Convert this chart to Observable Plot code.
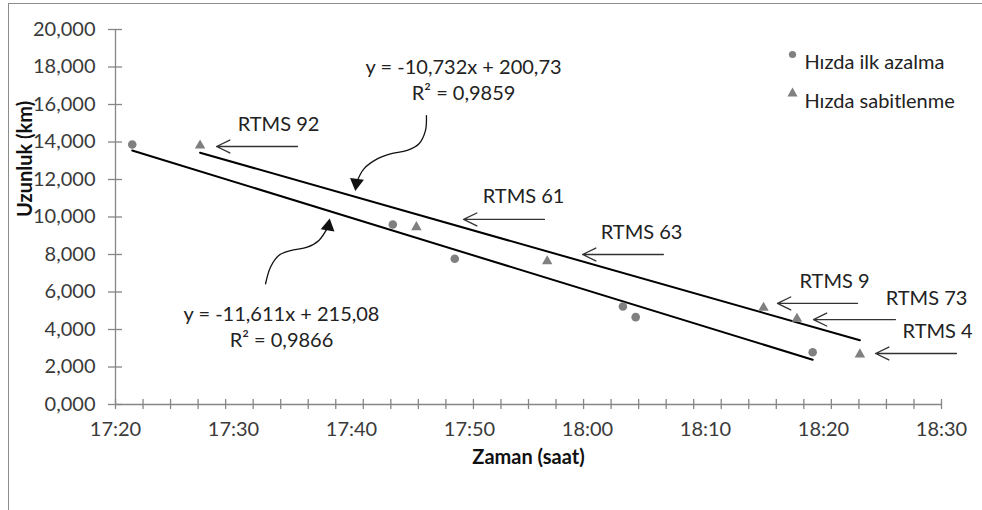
<!DOCTYPE html>
<html>
<head>
<meta charset="utf-8">
<script src="https://cdn.jsdelivr.net/npm/d3@7"></script>
<script src="https://cdn.jsdelivr.net/npm/@observablehq/plot@0.6"></script>
<style>
  html, body { margin: 0; padding: 0; background: #fff; }
  #chart { position: relative; width: 982px; height: 510px; overflow: hidden; }
  #chart .box { position: absolute; left: 8px; top: 3px; right: -10px; bottom: -10px; border: 1.5px solid #8c8c8c; }
  #chart svg { position: absolute; left: 0; top: 0; }
</style>
</head>
<body>
<div id="chart"><div class="box"></div></div>
<script>
// Series: clock time of each RTMS reading and distance (km)
const seriesNames = ["Hızda ilk azalma", "Hızda sabitlenme"];
const azalmaTimes = ["17:21:25", "17:43:30", "17:48:45", "18:03:00", "18:04:05", "18:19:05"];
const azalmaKm    = [13.87, 9.60, 7.77, 5.23, 4.66, 2.79];
const sabitTimes  = ["17:27:10", "17:45:30", "17:56:35", "18:14:55", "18:17:45", "18:23:05"];
const sabitKm     = [13.81, 9.46, 7.64, 5.16, 4.57, 2.67];

// Linear trends (x in hours): y = slope * x + intercept
const slopes     = [-11.611, -10.732];
const intercepts = [215.08, 200.73];
const rSquared   = ["0,9866", "0,9859"];

// Equation labels and their curved pointers
const eqTimes = ["17:34:04", "17:49:30"];
const eqKm    = [4.21, 17.36];
const azalmaPointerTimes = ["17:32:43", "17:33:08", "17:33:50", "17:34:50", "17:36:15", "17:37:14", "17:38:02"];
const azalmaPointerKm    = [6.44, 7.32, 7.95, 8.21, 8.39, 8.75, 9.50];
const sabitPointerTimes  = ["17:46:21", "17:46:16", "17:45:42", "17:44:43", "17:43:18", "17:42:11", "17:41:03", "17:40:25"];
const sabitPointerKm     = [15.41, 14.61, 13.89, 13.55, 13.37, 13.10, 12.57, 11.82];
const pointerHeadAngle   = [10, 188];

// Station callouts
const rtmsNames     = ["RTMS 92", "RTMS 61", "RTMS 63", "RTMS 9", "RTMS 73", "RTMS 4"];
const rtmsTextTimes = ["17:33:49", "17:54:35", "18:04:35", "18:20:56", "18:28:44", "18:29:40"];
const rtmsTextKm    = [14.93, 11.09, 9.17, 6.56, 5.65, 3.89];
const rtmsFromTimes = ["17:35:25", "17:56:21", "18:06:26", "18:22:53", "18:26:06", "18:31:16"];
const rtmsToTimes   = ["17:28:34", "17:49:30", "17:59:35", "18:16:06", "18:19:09", "18:24:25"];
const rtmsArrowKm   = [13.76, 9.87, 8.00, 5.39, 4.53, 2.72];

// Axis ticks
const xStart = "17:20", xEnd = "18:30";
const yTicks = d3.range(0, 21, 2);

const hours = (s) => { const [h, m, sec = 0] = s.split(":").map(Number); return h + m / 60 + sec / 3600; };
const x0 = hours(xStart), x1 = hours(xEnd);
const xLabelTicks = d3.range(0, 8).map(i => x0 + i / 6);
const xMinorTicks = d3.range(0, 31).map(i => x0 + i * (x1 - x0) / 30);
const clock = (v) => { const h = Math.floor(v + 1e-9); const m = Math.round((v - h) * 60); return `${h}:${String(m).padStart(2, "0")}`; };
const comma = (v, d) => v.toFixed(d).replace(".", ",");

const azalma = azalmaTimes.map((t, i) => ({x: hours(t), y: azalmaKm[i]}));
const sabit  = sabitTimes.map((t, i) => ({x: hours(t), y: sabitKm[i]}));
const groups = [azalma, sabit];

const trend = groups.flatMap((g, i) => d3.extent(g, d => d.x).map(x => ({series: seriesNames[i], x, y: slopes[i] * x + intercepts[i]})));
const equations = seriesNames.map((s, i) => ({
  x: hours(eqTimes[i]), y: eqKm[i],
  text: `y = ${comma(slopes[i], 3)}x + ${comma(intercepts[i], 2)}\nR² = ${rSquared[i]}`
}));
const pointers = [
  azalmaPointerTimes.map((t, i) => ({id: 0, x: hours(t), y: azalmaPointerKm[i]})),
  sabitPointerTimes.map((t, i) => ({id: 1, x: hours(t), y: sabitPointerKm[i]}))
];
const heads = pointers.map((p, i) => ({...p[p.length - 1], angle: pointerHeadAngle[i]}));
const callouts = rtmsNames.map((name, i) => ({
  name, tx: hours(rtmsTextTimes[i]), ty: rtmsTextKm[i],
  ax1: hours(rtmsFromTimes[i]), ax2: hours(rtmsToTimes[i]), ay: rtmsArrowKm[i]
}));

const axisGray = "#868686";
const pointGray = "#808080";
const ink = "#222";

const chart = Plot.plot({
  width: 982,
  height: 510,
  marginLeft: 115,
  marginRight: 41,
  marginTop: 29,
  marginBottom: 106,
  style: {fontFamily: "Lato, 'Open Sans', sans-serif", fontSize: "20px", background: "transparent", color: "#404040"},
  x: {domain: [x0, x1]},
  y: {domain: [0, 20]},
  marks: [
    // axis lines
    Plot.ruleX([x0], {y1: 0, y2: 20, stroke: axisGray, strokeWidth: 1.3}),
    Plot.ruleY([0], {x1: x0, x2: x1, stroke: axisGray, strokeWidth: 1.3}),
    // crossing tick marks
    Plot.axisY(yTicks, {tickSize: 14, dx: 7, fill: "none", stroke: axisGray, strokeWidth: 1.3, label: null}),
    Plot.axisX(xMinorTicks, {tickSize: 10, dy: -5, fill: "none", stroke: axisGray, strokeWidth: 1.3, label: null}),
    // tick labels
    Plot.axisY(yTicks, {tickSize: 0, tickPadding: 20, stroke: "none", fill: "#3a3a3a", tickFormat: d => comma(d, 3), label: null}),
    Plot.axisX(xLabelTicks, {tickSize: 0, tickPadding: 17, stroke: "none", fill: "#3a3a3a", tickFormat: clock, label: null}),
    // axis titles
    Plot.text(["Uzunluk (km)"], {frameAnchor: "left", dx: -90, rotate: -90, fontWeight: "bold", fill: "#111"}),
    Plot.text(["Zaman (saat)"], {frameAnchor: "bottom", dy: 59, fontWeight: "bold", fill: "#111"}),
    // fitted lines
    Plot.line(trend, {x: "x", y: "y", z: "series", stroke: "#000", strokeWidth: 2}),
    // observations
    Plot.dot(azalma, {x: "x", y: "y", r: 4.3, symbol: "circle", fill: pointGray}),
    Plot.dot(sabit, {x: "x", y: "y", r: 3.9, symbol: "triangle", fill: pointGray}),
    // equation labels with curved pointers
    Plot.text(equations, {x: "x", y: "y", text: "text", lineHeight: 1.3, fill: ink}),
    Plot.line(pointers.flat(), {x: "x", y: "y", z: "id", curve: "catmull-rom", stroke: "#111", strokeWidth: 1.3}),
    Plot.dot(heads, {x: "x", y: "y", symbol: "triangle", r: 5.2, fill: "#111", rotate: "angle"}),
    // station callouts
    Plot.arrow(callouts, {x1: "ax1", x2: "ax2", y1: "ay", y2: "ay", stroke: "#333", strokeWidth: 1.3, headLength: 17, headAngle: 52}),
    Plot.text(callouts, {x: "tx", y: "ty", text: "name", fill: ink}),
    // legend
    Plot.dot([seriesNames[0]], {frameAnchor: "top-right", dx: -149, dy: 25, r: 3.6, symbol: "circle", fill: pointGray}),
    Plot.dot([seriesNames[1]], {frameAnchor: "top-right", dx: -149, dy: 64, r: 3.8, symbol: "triangle", fill: pointGray}),
    Plot.text([seriesNames[0]], {frameAnchor: "top-right", dx: -137, dy: 25, textAnchor: "start", fill: ink}),
    Plot.text([seriesNames[1]], {frameAnchor: "top-right", dx: -137, dy: 64, textAnchor: "start", fill: ink})
  ]
});

document.getElementById("chart").appendChild(chart);
</script>
</body>
</html>
